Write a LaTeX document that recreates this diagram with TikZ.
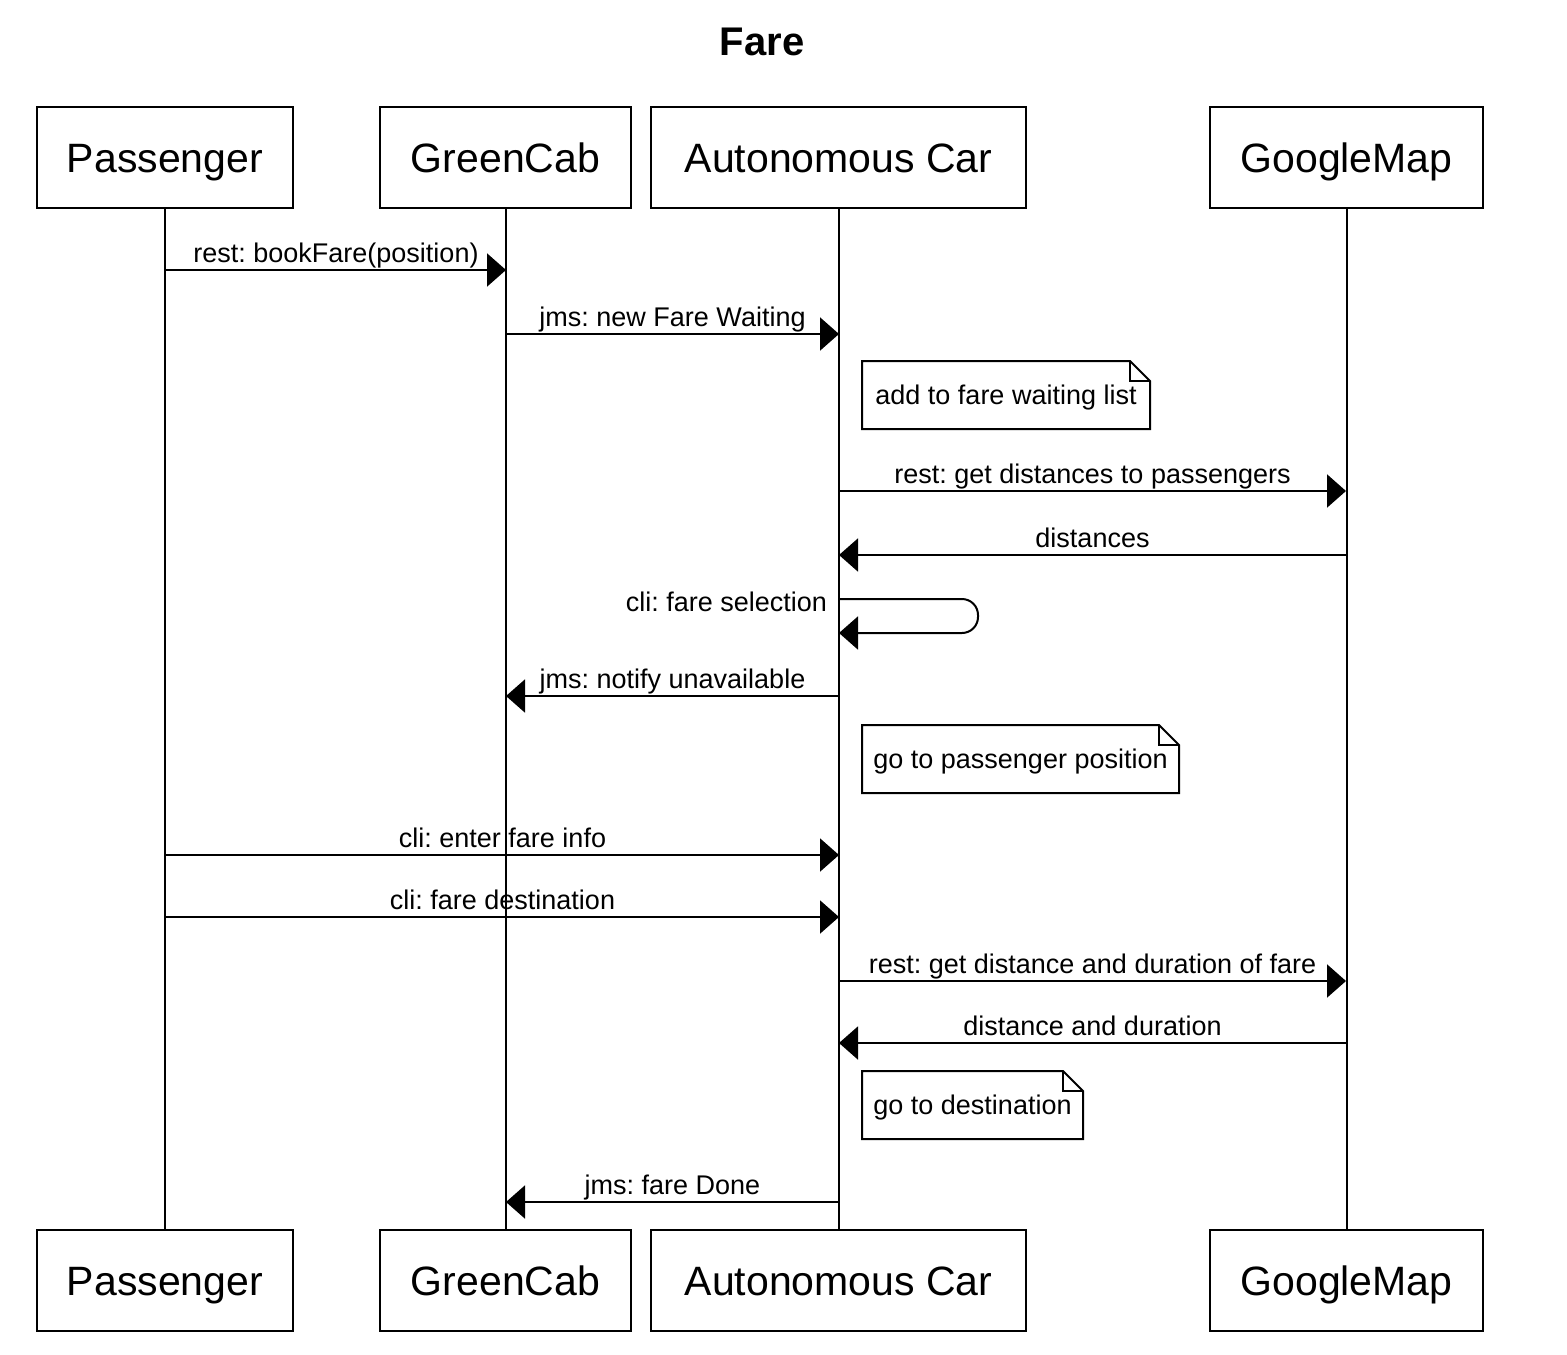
\documentclass[tikz,border=0pt]{standalone}
\usepackage{fontspec}
\setmainfont{Liberation Sans}
\usetikzlibrary{arrows.meta}
\frenchspacing
\begin{document}
\begin{tikzpicture}[x=0.5pt,y=-0.5pt,line width=1pt,
  actor/.style={draw,minimum height=50.5pt,inner sep=0pt,outer sep=0pt,text height=14.8pt,text depth=0pt,font=\fontsize{20.5}{24}\selectfont},
  msg/.style={-{Triangle[length=9.5pt,width=16.5pt]}},
  lbl/.style={font=\fontsize{13.5}{16}\selectfont,inner sep=0pt,anchor=base,yshift=4pt},
  notebox/.style={minimum height=34pt,inner sep=0pt,outer sep=0pt,text height=9.8pt,text depth=0pt,anchor=north west,font=\fontsize{13.5}{16}\selectfont}]
\path[use as bounding box] (0,0) rectangle (1567,1354);
\node[font=\bfseries\fontsize{20}{24}\selectfont] (title) at (762,42) {Fare};
% participants
\node[actor,minimum width=128pt] (pa) at (165,157.5) {Passenger};
\node[actor,minimum width=125.5pt] (pg) at (505.5,157.5) {GreenCab};
\node[actor,minimum width=187.5pt] (pc) at (838.5,157.5) {Autonomous Car};
\node[actor,minimum width=136.5pt] (pm) at (1346.5,157.5) {GoogleMap};
\node[actor,minimum width=128pt] (pab) at (165,1280.5) {Passenger};
\node[actor,minimum width=125.5pt] (pgb) at (505.5,1280.5) {GreenCab};
\node[actor,minimum width=187.5pt] (pcb) at (838.5,1280.5) {Autonomous Car};
\node[actor,minimum width=136.5pt] (pmb) at (1346.5,1280.5) {GoogleMap};
% lifelines
\draw (pa.south) -- (pab.north);
\draw (pg.south) -- (pgb.north);
\draw (pc.south) -- (pcb.north);
\draw (pm.south) -- (pmb.north);
% message end points
\coordinate (a1) at (166,270);  \coordinate (g1) at (506,270);
\coordinate (g2) at (506,334);  \coordinate (c2) at (839,334);
\coordinate (c4) at (839,491);  \coordinate (m4) at (1346,491);
\coordinate (m5) at (1346,555); \coordinate (c5) at (839,555);
\coordinate (c6) at (839,599);  \coordinate (s6) at (978,599);
\coordinate (s6b) at (978,633); \coordinate (c6b) at (839,633);
\coordinate (c7) at (839,696);  \coordinate (g7) at (506,696);
\coordinate (a9) at (166,855);  \coordinate (c9) at (839,855);
\coordinate (a10) at (166,917); \coordinate (c10) at (839,917);
\coordinate (c11) at (839,981); \coordinate (m11) at (1346,981);
\coordinate (m12) at (1346,1043); \coordinate (c12) at (839,1043);
\coordinate (c14) at (839,1202); \coordinate (g14) at (506,1202);
% messages
\draw[msg] (a1) -- node[lbl] (l1) {rest: bookFare(position)} (g1);
\draw[msg] (g2) -- node[lbl] (l2) {jms: new Fare Waiting} (c2);
\draw[msg] (c4) -- node[lbl] (l4) {rest: get distances to passengers} (m4);
\draw[msg] (m5) -- node[lbl] (l5) {distances} (c5);
\draw[msg,rounded corners=8pt] (c6) -- (s6) -- (s6b) -- (c6b);
\node[font=\fontsize{13.5}{16}\selectfont,inner sep=0pt,anchor=base east] (l6) at (828,611) {cli: fare selection};
\draw[msg] (c7) -- node[lbl] (l7) {jms: notify unavailable} (g7);
\draw[msg] (a9) -- node[lbl] (l9) {cli: enter fare info} (c9);
\draw[msg] (a10) -- node[lbl] (l10) {cli: fare destination} (c10);
\draw[msg] (c11) -- node[lbl] (l11) {rest: get distance and duration of fare} (m11);
\draw[msg] (m12) -- node[lbl] (l12) {distance and duration} (c12);
\draw[msg] (c14) -- node[lbl] (l14) {jms: fare Done} (g14);
% notes
\node[notebox,minimum width=144pt] (n1) at (862,361) {add to fare waiting list};
\node[notebox,minimum width=158.5pt] (n2) at (862,725) {go to passenger position};
\node[notebox,minimum width=110.5pt] (n3) at (862,1071) {go to destination};
\foreach \n in {n1,n2,n3}{
  \draw (\n.south west) -- (\n.north west) -- ([xshift=-10pt]\n.north east) -- ([yshift=-10pt]\n.north east) -- (\n.south east) -- cycle;
  \draw[line width=0.8pt] ([xshift=-10pt]\n.north east) -- ([xshift=-10pt,yshift=-10pt]\n.north east) -- ([yshift=-10pt]\n.north east);
}
\end{tikzpicture}
\end{document}
